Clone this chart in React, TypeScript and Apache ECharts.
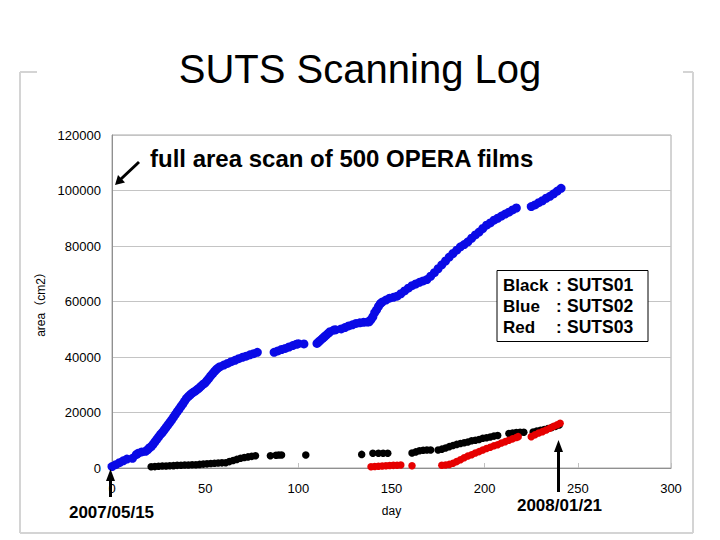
import React, { useEffect, useRef } from "react";
import * as echarts from "echarts";

const FONT = '"Liberation Sans", Arial, "Noto Sans CJK JP", sans-serif';

const TITLE = "SUTS Scanning Log";
const NOTE = "full area scan of 500 OPERA films";
const START_DATE = "2007/05/15";
const END_DATE = "2008/01/21";
const X_NAME = "day";
const Y_NAME = "area（cm2）";

const X_MIN = 0;
const X_MAX = 300;
const X_STEP = 50;
const Y_MIN = 0;
const Y_MAX = 120000;
const Y_STEP = 20000;

const LEGEND_NAMES = ["Black", "Blue", "Red"];
const LEGEND_UNITS = ["SUTS01", "SUTS02", "SUTS03"];

// SUTS02 (blue) [day, area cm2]
const suts02: [number, number][] = [
  [0, 500], [2, 1200], [4, 1900], [6, 2600], [8, 3200],
  [11, 3500], [13, 4800], [14, 5300], [16, 5800], [18, 6000], [19, 6500], [20, 7200],
  [21, 7700], [22, 8500], [23, 9400], [24, 10300], [25, 11200], [26, 12100], [27, 12800],
  [28, 13700], [29, 14600], [30, 15500], [31, 16400], [32, 17300], [33, 18300], [34, 19300],
  [35, 20300], [36, 21200], [37, 22200], [38, 23100], [39, 24100], [40, 25100], [41, 25800],
  [42, 26400], [43, 27000], [44, 27400], [45, 27900], [46, 28400], [47, 29000], [48, 29600],
  [49, 30200], [50, 30700], [51, 31500], [52, 32300], [53, 33200], [54, 34000], [55, 34800],
  [56, 35500], [57, 36100], [58, 36500], [60, 37100], [62, 37700], [64, 38300], [66, 38800],
  [68, 39400], [70, 39900], [72, 40300], [74, 40800], [76, 41200], [78, 41700],
  [87, 41700], [89, 42200], [91, 42700], [93, 43100], [95, 43600], [97, 44100], [99, 44600],
  [100, 44800], [103, 44700],
  [110, 44900], [111, 45500], [112, 46100], [113, 46700], [114, 47300], [115, 47900],
  [116, 48500], [117, 49100], [119, 49700], [120, 49800],
  [123, 50100], [125, 50600], [127, 51200], [129, 51600], [131, 52100], [133, 52300],
  [135, 52500], [137, 52600], [138, 52700], [139, 53500], [140, 54500], [141, 56000],
  [142, 57000], [143, 58200], [144, 59200], [145, 59800], [147, 60500], [149, 61200],
  [151, 61500], [153, 61900], [155, 62800], [157, 63800], [159, 64800], [161, 65700],
  [163, 66300], [165, 66900], [167, 67400], [169, 67900], [171, 69100], [173, 70400],
  [175, 71800], [177, 73200], [179, 74600], [181, 76000], [183, 77300], [185, 78500],
  [187, 79700], [189, 80500], [191, 81500], [193, 82800], [195, 84000], [197, 85000],
  [199, 86300], [201, 87500], [203, 88300], [205, 89300], [207, 90000], [209, 90800],
  [211, 91500], [213, 92200], [215, 93000], [217, 93700],
  [225, 94200], [227, 94800], [229, 95600], [231, 96300], [233, 97200], [235, 97900],
  [237, 98800], [239, 99800], [241, 100800],
];

// SUTS01 (black)
const suts01: [number, number][] = [
  [21, 470], [23, 500], [25, 600], [27, 700], [29, 750], [31, 800], [33, 850], [35, 950],
  [37, 1000], [39, 1050], [41, 1100], [43, 1150], [45, 1200], [47, 1300], [49, 1400],
  [51, 1500], [53, 1600], [55, 1700], [57, 1800], [59, 1850], [61, 1900], [63, 2300],
  [65, 2700], [67, 3100], [69, 3500], [71, 3800], [73, 4000], [75, 4200], [77, 4400],
  [85, 4400], [88, 4600], [89.5, 4700], [91, 4700],
  [104, 4700],
  [134, 4900], [140, 5300], [143, 5300], [145.5, 5300], [148, 5300],
  [161, 5400], [163, 5800], [165, 6200], [167, 6400], [169, 6500], [171, 6500],
  [175, 6500], [177, 6800], [179, 7200], [181, 7700], [183, 8100], [185, 8500], [187, 8800],
  [189, 9100], [191, 9400], [193, 9800], [195, 10000], [197, 10300], [199, 10700],
  [201, 10900], [203, 11200], [205, 11500], [207, 11700],
  [213, 12400], [215, 12600], [217, 12800], [219, 12900], [221, 12900],
  [226, 13000], [228, 13300], [230, 13600], [232, 13900], [234, 14200], [236, 14600],
  [238, 15000], [240, 15500],
];

// SUTS03 (red)
const suts03: [number, number][] = [
  [139, 470], [141, 550], [143, 650], [145, 750], [147, 830], [149, 900], [151, 950],
  [153, 1000], [155, 1080],
  [161, 830],
  [177, 1000], [179, 1100], [181, 1300], [183, 1700], [185, 2300], [187, 3000], [189, 3700],
  [191, 4300], [193, 4800], [195, 5400], [197, 5900], [199, 6500], [201, 7000], [203, 7500],
  [205, 8000], [207, 8400], [209, 9000], [211, 9500], [213, 10000], [215, 10500],
  [217, 11000], [218, 11300],
  [225, 11300], [227, 12000], [229, 12600], [231, 13100], [233, 13700], [235, 14300],
  [237, 15000], [239, 15600], [240.5, 16100],
];

function txt(text: string, x: number, y: number, font: string, align = "left") {
  return {
    type: "text",
    x,
    y,
    z: 100,
    style: {
      text,
      fill: "#000",
      font,
      textAlign: align,
      textVerticalAlign: "middle",
      verticalAlign: "middle",
    },
  };
}

function seg(x1: number, y1: number, x2: number, y2: number, color: string, w: number) {
  return {
    type: "line",
    z: 100,
    shape: { x1, y1, x2, y2 },
    style: { stroke: color, lineWidth: w },
  };
}

function tri(points: number[][]) {
  return { type: "polygon", z: 100, shape: { points }, style: { fill: "#000" } };
}

export default function App() {
  const ref = useRef<HTMLDivElement>(null);
  useEffect(() => {
    if (!ref.current) return;
    const chart = echarts.init(ref.current, null, { renderer: "svg" });
    const frame = "#d4d4d4";
    const legendRows = LEGEND_NAMES.map((n, i) => [
      txt(n, 503, 285 + i * 21, `bold 17px ${FONT}`),
      txt(":", 556, 285 + i * 21, `bold 17px ${FONT}`),
      txt(LEGEND_UNITS[i], 567, 285 + i * 21, `bold 17.5px ${FONT}`),
    ]).flat();

    const option: any = {
      animation: false,
      backgroundColor: "#fff",
      textStyle: { fontFamily: FONT },
      grid: {
        left: 112,
        right: 49,
        top: 135,
        bottom: 72,
        show: true,
        borderColor: "#a8a8a8",
        borderWidth: 1,
        outerBoundsMode: "none",
      },
      xAxis: {
        type: "value",
        min: X_MIN,
        max: X_MAX,
        interval: X_STEP,
        name: X_NAME,
        nameLocation: "middle",
        nameGap: 37,
        nameTextStyle: { fontSize: 12, color: "#000", fontFamily: FONT },
        axisLine: { lineStyle: { color: "#909090" } },
        axisTick: { show: true, inside: true, length: 5, lineStyle: { color: "#c0c0c0" } },
        axisLabel: { margin: 14, fontSize: 13, color: "#000", fontFamily: FONT },
        splitLine: { show: false },
      },
      yAxis: {
        type: "value",
        min: Y_MIN,
        max: Y_MAX,
        interval: Y_STEP,
        name: Y_NAME,
        nameLocation: "middle",
        nameGap: 64,
        nameTextStyle: { fontSize: 12, color: "#000", fontFamily: FONT },
        axisLine: { show: true, lineStyle: { color: "#909090" } },
        axisTick: { show: false },
        axisLabel: {
          margin: 11,
          fontSize: 13,
          color: "#000",
          fontFamily: FONT,
          formatter: (v: number) => String(v),
        },
        splitLine: { show: true, lineStyle: { color: "#c4c4c4" } },
      },
      series: [
        {
          type: "scatter",
          name: "SUTS02",
          data: suts02,
          symbolSize: 9,
          itemStyle: { color: "#0a0ae6", opacity: 1 },
          z: 2,
        },
        {
          type: "scatter",
          name: "SUTS01",
          data: suts01,
          symbolSize: 7.5,
          itemStyle: { color: "#000", opacity: 1 },
          z: 3,
        },
        {
          type: "scatter",
          name: "SUTS03",
          data: suts03,
          symbolSize: 7.5,
          itemStyle: { color: "#e60000", opacity: 1 },
          z: 4,
        },
      ],
      graphic: [
        // slide frame
        seg(20, 72, 37, 72, frame, 2),
        seg(683, 72, 693, 72, frame, 2),
        seg(20, 72, 20, 533, frame, 2),
        seg(693, 72, 693, 533, frame, 2),
        seg(20, 533, 693, 533, frame, 2),
        txt(TITLE, 360, 69, `40px ${FONT}`, "center"),
        txt(NOTE, 150, 158, `bold 24px ${FONT}`),
        seg(139, 162, 121, 179, "#000", 3),
        tri([[115, 185], [125, 182.5], [118, 175]]),
        {
          type: "rect",
          z: 99,
          shape: { x: 497, y: 270.5, width: 151, height: 71 },
          style: { fill: "#fff", stroke: "#000", lineWidth: 1 },
        },
        ...legendRows,
        txt(START_DATE, 111.5, 512, `bold 17px ${FONT}`, "center"),
        seg(110.5, 497, 110.5, 478, "#000", 3),
        tri([[110.5, 469], [106, 481], [115, 481]]),
        txt(END_DATE, 559.5, 505, `bold 17px ${FONT}`, "center"),
        seg(558.5, 492, 558.5, 449, "#000", 3),
        tri([[558.5, 440], [554, 452], [563, 452]]),
      ],
    };
    chart.setOption(option);
    return () => chart.dispose();
  }, []);
  return (
    <div
      ref={ref}
      style={{ position: "fixed", left: 0, top: 0, width: 720, height: 540 }}
    />
  );
}
